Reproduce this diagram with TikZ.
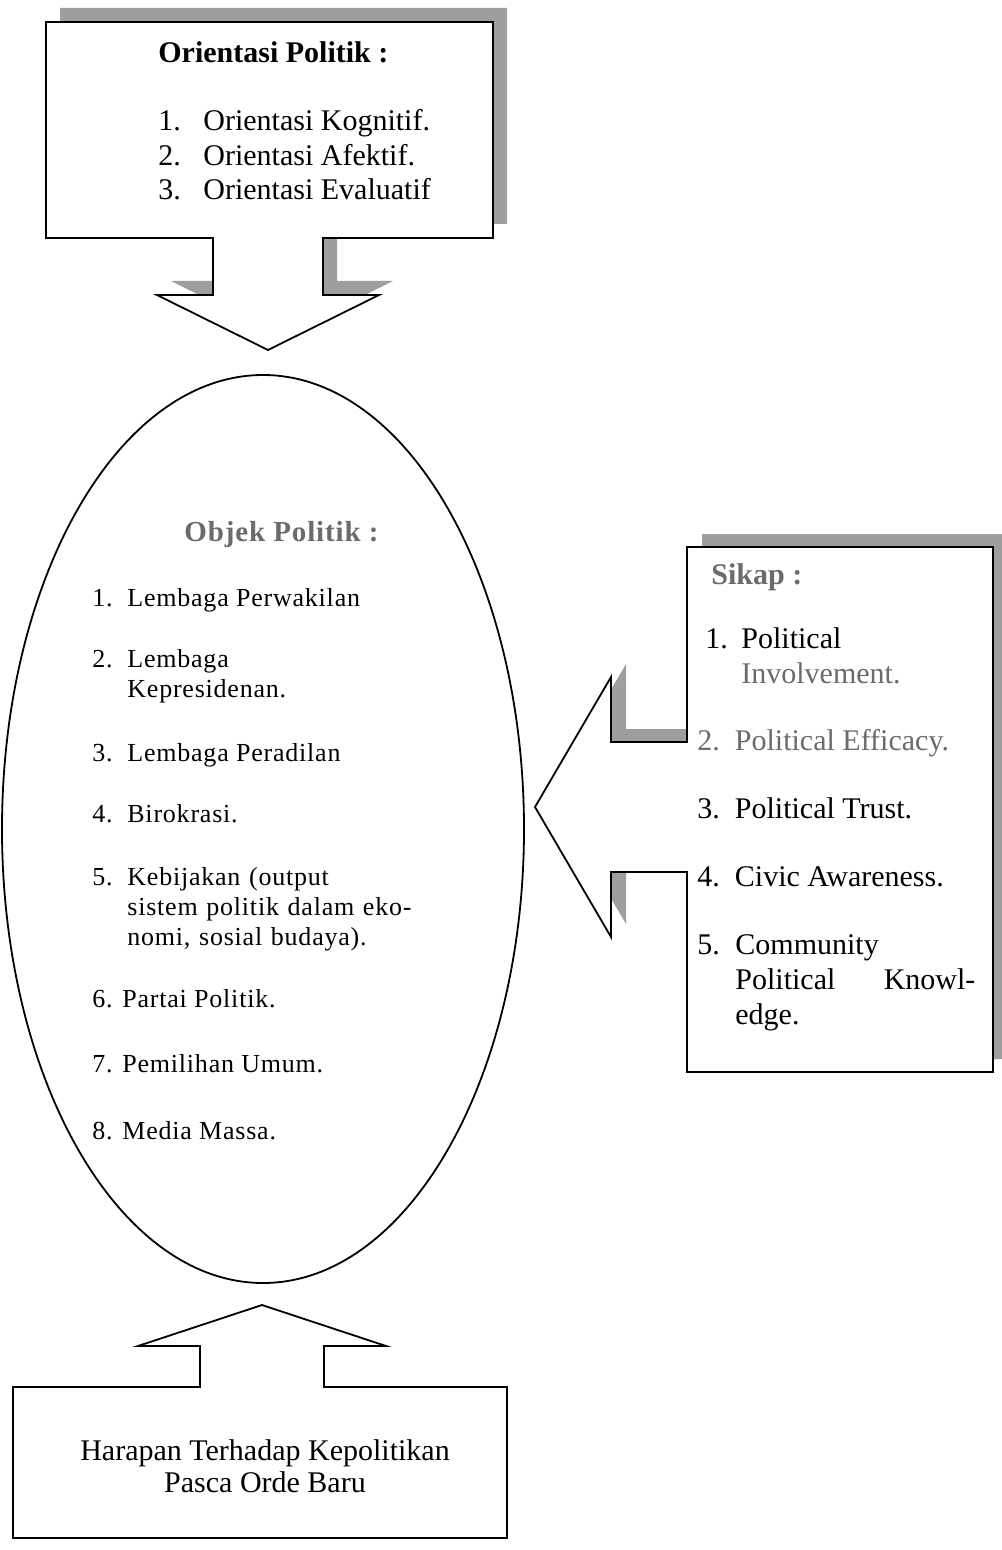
\documentclass[tikz,border=0pt]{standalone}
\usepackage{fontspec}
\setmainfont{Liberation Serif}
\newfontfamily\spacedserif[LetterSpace=3]{Liberation Serif}
\usetikzlibrary{positioning, shapes.geometric}
\definecolor{shadowgray}{gray}{0.62}
\definecolor{fadedtext}{gray}{0.42}

\begin{document}
\begin{tikzpicture}[x=0.5pt,y=-0.5pt,
    frame/.style={draw,line width=0.9pt,fill=white,line join=miter},
    shadow/.style={fill=shadowgray,draw=none},
    lbl/.style={anchor=base west,inner sep=0pt},
    para/.style={anchor=base west,inner sep=0pt,align=left,text width=#1},
    big/.style={font=\fontsize{15}{17.5}\selectfont},
    small/.style={font=\spacedserif\fontsize{13}{15}\selectfont}]
  \useasboundingbox[fill=white] (0,0) rectangle (1001,1550);

  % Orientasi box with arrow down
  \fill[shadow,shift={(14,-14)}] (46,22) -- (493,22) -- (493,238) -- (323,238) -- (323,295)
    -- (379,295) -- (268,350) -- (157,295) -- (213,295) -- (213,238) -- (46,238) -- cycle;
  \draw[frame] (46,22) -- (493,22) -- (493,238) -- (323,238) -- (323,295)
    -- (379,295) -- (268,350) -- (157,295) -- (213,295) -- (213,238) -- (46,238) -- cycle;

  % Sikap box with arrow left
  \fill[shadow,shift={(15,-13)}] (687,547) -- (993,547) -- (993,1072) -- (687,1072) -- (687,872)
    -- (611,872) -- (611,937) -- (535,807) -- (611,677) -- (611,742) -- (687,742) -- cycle;
  \draw[frame] (687,547) -- (993,547) -- (993,1072) -- (687,1072) -- (687,872)
    -- (611,872) -- (611,937) -- (535,807) -- (611,677) -- (611,742) -- (687,742) -- cycle;

  % Harapan box with arrow up
  \draw[frame] (13,1387) -- (200,1387) -- (200,1346) -- (138,1346) -- (262,1305) -- (386,1346)
    -- (324,1346) -- (324,1387) -- (507,1387) -- (507,1538) -- (13,1538) -- cycle;

  % Objek ellipse
  \node[draw,ellipse,line width=0.9pt,minimum width=261pt,minimum height=454pt,inner sep=0pt]
    (obj) at (263,829) {};

  % Orientasi text
  \node[lbl,font=\fontsize{15}{17.5}\selectfont\bfseries] (orTitle) at (158,63) {Orientasi Politik :};
  \node[lbl,big] (or1n) at (158,131) {1.};
  \node[lbl,big] (or1) at (203,131) {Orientasi Kognitif.};
  \node[lbl,big] (or2n) at (158,166) {2.};
  \node[lbl,big] (or2) at (203,166) {Orientasi Afektif.};
  \node[lbl,big] (or3n) at (158,200) {3.};
  \node[lbl,big] (or3) at (203,200) {Orientasi Evaluatif};

  % Objek text
  \node[lbl,text=fadedtext,font=\spacedserif\fontsize{14.5}{17}\selectfont\bfseries] (objTitle) at (184,541) {Objek Politik :};
  \node[lbl,small] (ob1n) at (92,606) {1.};
  \node[lbl,small] (ob1) at (127,606) {Lembaga Perwakilan};
  \node[lbl,small] (ob2n) at (92,667) {2.};
  \node[para=170pt,small] (ob2) at (127,667) {Lembaga\\Kepresidenan.};
  \node[lbl,small] (ob3n) at (92,761) {3.};
  \node[lbl,small] (ob3) at (127,761) {Lembaga Peradilan};
  \node[lbl,small] (ob4n) at (92,822) {4.};
  \node[lbl,small] (ob4) at (127,822) {Birokrasi.};
  \node[lbl,small] (ob5n) at (92,885) {5.};
  \node[para=170pt,small] (ob5) at (127,885) {Kebijakan (output\\sistem politik dalam eko-\\nomi, sosial budaya).};
  \node[lbl,small] (ob6) at (92,1007) {6. Partai Politik.};
  \node[lbl,small] (ob7) at (92,1072) {7. Pemilihan Umum.};
  \node[lbl,small] (ob8) at (92,1139) {8. Media Massa.};

  % Sikap text
  \node[lbl,text=fadedtext,font=\fontsize{15}{17.5}\selectfont\bfseries] (skTitle) at (711,584) {Sikap :};
  \node[lbl,big] (sk1n) at (705,648) {1.};
  \node[para=130pt,big] (sk1) at (741,648) {Political\\\textcolor{fadedtext}{Involvement.}};
  \node[lbl,big,text=fadedtext] (sk2) at (697,750) {2.\enspace Political Efficacy.};
  \node[lbl,big] (sk3) at (697,818) {3.\enspace Political Trust.};
  \node[lbl,big] (sk4) at (697,886) {4.\enspace Civic Awareness.};
  \node[lbl,big] (sk5n) at (697,954) {5.};
  \node[para=120pt,big] (sk5) at (735,954) {Community\\Political\hfill Knowl-\\edge.};

  % Harapan text
  \node[align=center,inner sep=0pt,font=\fontsize{15}{16}\selectfont] (hrp) at (265,1466)
    {Harapan Terhadap Kepolitikan\\Pasca Orde Baru};
\end{tikzpicture}
\end{document}
